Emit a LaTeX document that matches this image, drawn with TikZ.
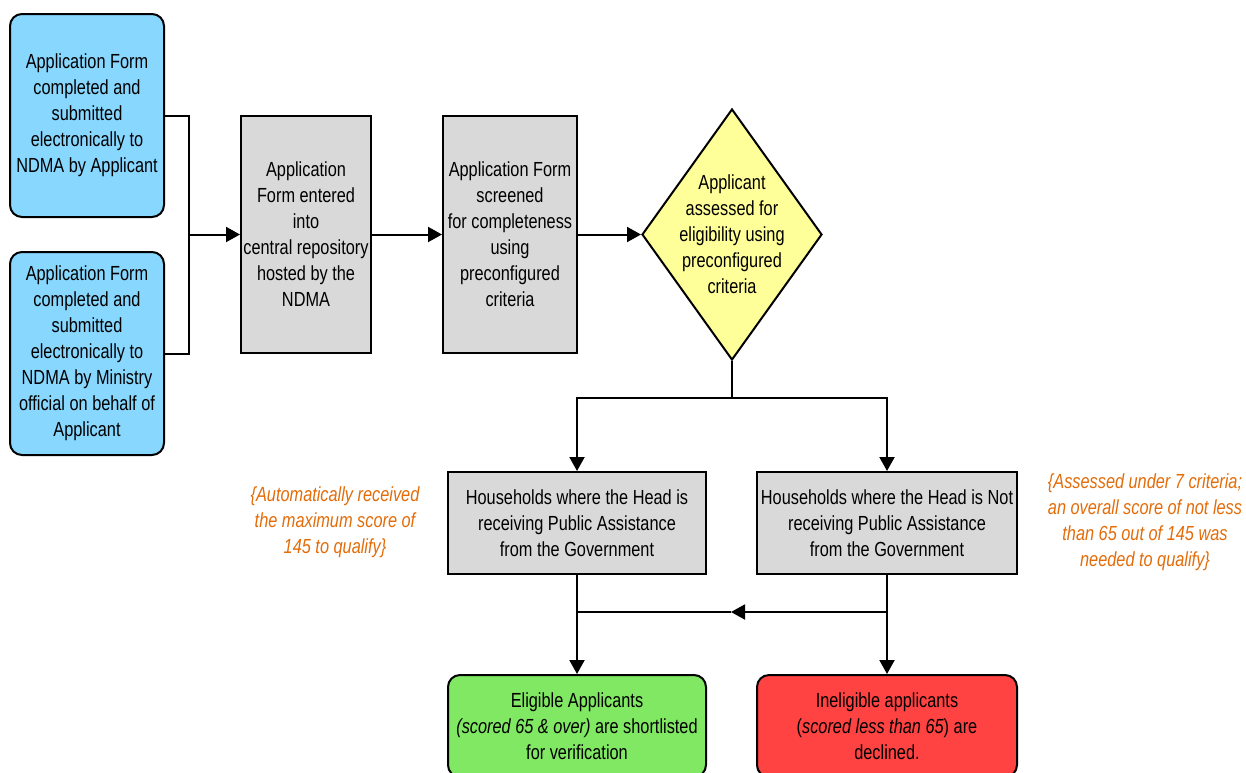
\documentclass[tikz,border=0pt]{standalone}
\usepackage{fontspec}
\setmainfont[FakeStretch=0.8]{Liberation Sans}
\usepackage{tikz}
\usetikzlibrary{shapes.geometric,arrows.meta}
\definecolor{formblue}{HTML}{87D7FF}
\definecolor{stepgray}{HTML}{D9D9D9}
\definecolor{checkyellow}{HTML}{FFFF99}
\definecolor{passgreen}{HTML}{80E862}
\definecolor{failred}{HTML}{FF4242}
\definecolor{noteorange}{HTML}{E36C09}

\begin{document}
\begin{tikzpicture}[x=0.5pt, y=-0.5pt, line width=1pt,
		>={Triangle[length=7pt,width=7.5pt]},
		every node/.style={font=\fontsize{10.2}{13}\selectfont, align=center, inner sep=0pt},
		blue node/.style={draw, rounded corners=6pt, fill=formblue, minimum width=77pt, minimum height=101.5pt},
		gray node/.style={draw, fill=stepgray, minimum height=51pt},
		decision node/.style={draw, diamond, fill=checkyellow, minimum width=90pt, minimum height=125.5pt},
		end node/.style={draw, rounded corners=6pt, minimum width=129pt, minimum height=51pt},
		note node/.style={text=noteorange, font=\fontsize{10.2}{13}\selectfont\itshape}]
		
		\useasboundingbox (0,0) rectangle (1246,772);
		
		\node[blue node] (1) at (87,115.5) {Application Form\\completed and\\submitted\\electronically to\\NDMA by Applicant};
		\node[blue node] (2) at (87,353.5) {Application Form\\completed and\\submitted\\electronically to\\NDMA by Ministry\\official on behalf of\\Applicant};
		\node[gray node, minimum width=65pt, minimum height=118.5pt] (3) at (306,234.5) {Application\\Form entered\\into\\central repository\\hosted by the\\NDMA};
		\node[gray node, minimum width=67pt, minimum height=118.5pt] (4) at (510,234.5) {Application Form\\screened\\for completeness\\using\\preconfigured\\criteria};
		\node[decision node] (5) at (732,234.5) {};
		\node at (5) {Applicant\\assessed for\\eligibility using\\preconfigured\\criteria};
		\node[gray node, minimum width=129pt] (6) at (577,523) {Households where the Head is\\receiving Public Assistance\\from the Government};
		\node[gray node, minimum width=130pt] (7) at (887,523) {Households where the Head is Not\\receiving Public Assistance\\from the Government};
		\node[end node, fill=passgreen] (8) at (577,726) {Eligible Applicants\\\textit{(scored 65 \& over)} are shortlisted\\for verification};
		\node[end node, fill=failred, minimum width=130pt] (9) at (887,726) {Ineligible applicants\\(\textit{scored less than 65}) are\\declined.};
		\node[note node] (10) at (335,522) {\{Automatically received\\the maximum score of\\145 to qualify\}};
		\node[note node] (11) at (1145,522) {\{Assessed under 7 criteria;\\an overall score of not less\\than 65 out of 145 was\\needed to qualify\}};
		
		% joins
		\coordinate (j) at (189,234.5);
		\coordinate (k) at (732,398);
		\coordinate (l) at (577,612);
		\coordinate (m) at (887,612);
		\coordinate (mid) at (731,612);
		
		\draw (1.east) -| (j);
		\draw (2.east) -| (j);
		\draw[->] (j) -- (3);
		\draw[->] (3) -- (4);
		\draw[->] (4) -- (5);
		\draw (5.south) -- (k);
		\draw[->] (k) -| (6.north);
		\draw[->] (k) -| (7.north);
		\draw[->] (6) -- (8);
		\draw[->] (7) -- (9);
		\draw[->] (m) -- (mid);
		\draw (mid) -- (l);
\end{tikzpicture}
\end{document}
